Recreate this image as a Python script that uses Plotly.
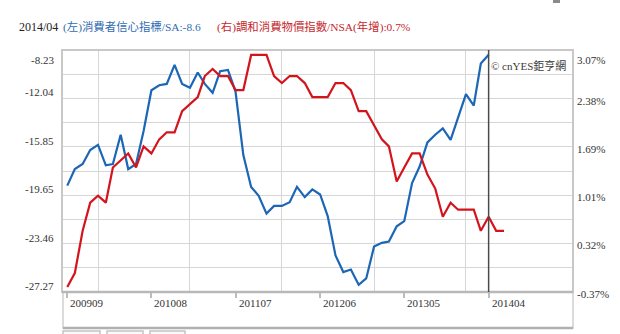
import pandas as pd
import plotly.graph_objects as go

# ---- data -------------------------------------------------------------
# Euro-area consumer confidence (SA), monthly 2009-09 .. 2014-04
confidence = [
    -18.9, -17.6, -17.2, -16.1, -15.7, -17.3, -17.2, -14.9, -17.6, -17.2,
    -14.6, -11.4, -11.0, -10.9, -9.4, -10.9, -11.2, -10.0, -10.9, -11.6,
    -9.9, -9.8, -11.5, -16.5, -19.0, -19.7, -21.1, -20.5, -20.5, -20.2,
    -19.0, -19.8, -19.2, -19.6, -21.3, -24.4, -25.7, -25.5, -26.7, -26.2,
    -23.7, -23.4, -23.3, -22.1, -21.7, -18.7, -17.4, -15.5, -14.9, -14.4,
    -15.3, -13.5, -11.7, -12.6, -9.3, -8.6,
]
# Euro-area HICP, NSA, year-on-year %, monthly 2009-09 .. 2014-06
hicp = [
    -0.3, -0.1, 0.5, 0.9, 1.0, 0.9, 1.4, 1.5, 1.6, 1.4,
    1.7, 1.6, 1.8, 1.9, 1.9, 2.2, 2.3, 2.4, 2.7, 2.8,
    2.7, 2.7, 2.5, 2.5, 3.0, 3.0, 3.0, 2.7, 2.6, 2.7,
    2.7, 2.6, 2.4, 2.4, 2.4, 2.6, 2.6, 2.5, 2.2, 2.2,
    2.0, 1.8, 1.7, 1.2, 1.4, 1.6, 1.6, 1.3, 1.1, 0.7,
    0.9, 0.8, 0.8, 0.8, 0.5, 0.7, 0.5, 0.5,
]
start_month = "2009-09-01"
current_month = "201404"

x_tick_labels = ["200909", "201008", "201107", "201206", "201305", "201404"]
grid_years = ["2010", "2011", "2012", "2013", "2014"]
left_ticks = [-27.27, -23.46, -19.65, -15.85, -12.04, -8.23]
right_ticks = [-0.37, 0.32, 1.01, 1.69, 2.38, 3.07]

# ---- derived helpers --------------------------------------------------
months_conf = pd.date_range(start_month, periods=len(confidence), freq="MS")
months_hicp = pd.date_range(start_month, periods=len(hicp), freq="MS")


def ym(label):
    return pd.Timestamp(f"{label[:4]}-{label[4:]}-01")


cur = ym(current_month)
conf_now = confidence[list(months_conf).index(cur)]
hicp_now = hicp[list(months_hicp).index(cur)]

W, H = 620, 334
L, R, T, B = 62, 47, 50, 42
PW, PH = W - L - R, H - T - B


def px(x):
    return (x - L) / PW


def py(y):
    return (H - B - y) / PH


# gridlines: each labelled value plus the midpoint between neighbours
grid_vals = []
for a, b in zip(left_ticks[:-1], left_ticks[1:]):
    grid_vals += [a, (a + b) / 2]
grid_vals.append(left_ticks[-1])

SERIF = "Times New Roman, Liberation Serif, Noto Sans CJK TC, serif"
BLUE_LINE = "#1c66b6"
RED_LINE = "#d4141c"
TXT = "#333333"

fig = go.Figure()
fig.add_trace(go.Scatter(
    x=months_hicp, y=hicp, yaxis="y2", mode="lines",
    line=dict(color=RED_LINE, width=2.2), hoverinfo="skip", showlegend=False,
))
fig.add_trace(go.Scatter(
    x=months_conf, y=confidence, yaxis="y", mode="lines",
    line=dict(color=BLUE_LINE, width=2.2), hoverinfo="skip", showlegend=False,
))

ann = []
# y-axis labels
n = len(left_ticks)
for i, v in enumerate(left_ticks):
    shift = -10 if i == n - 1 else 6
    ann.append(dict(x=px(56), xref="paper", y=v, yref="y", text=f"{v:.2f}",
                    xanchor="right", yanchor="middle", showarrow=False,
                    yshift=shift, font=dict(family=SERIF, size=11, color=TXT)))
for i, v in enumerate(right_ticks):
    shift = -10 if i == n - 1 else -2
    ann.append(dict(x=px(575), xref="paper", y=v, yref="y2", text=f"{v:.2f}%",
                    xanchor="left", yanchor="middle", showarrow=False,
                    yshift=shift, font=dict(family=SERIF, size=11, color=TXT)))
# x-axis labels
for lab in x_tick_labels:
    ann.append(dict(x=ym(lab), xref="x", y=py(303), yref="paper", text=lab,
                    xanchor="left", yanchor="middle", showarrow=False, xshift=1,
                    font=dict(family=SERIF, size=11, color=TXT)))
# header
ann.append(dict(x=px(17), xref="paper", y=py(27), yref="paper",
                text=f"{current_month[:4]}/{current_month[4:]}",
                xanchor="left", yanchor="middle", showarrow=False,
                font=dict(family=SERIF, size=12, color="#222222")))
ann.append(dict(x=px(61), xref="paper", y=py(27), yref="paper",
                text=f"(左)消費者信心指標/SA:{conf_now}",
                xanchor="left", yanchor="middle", showarrow=False,
                font=dict(family=SERIF, size=11.4, color="#2f6cb3")))
ann.append(dict(x=px(215), xref="paper", y=py(27), yref="paper",
                text=f"(右)調和消費物價指數/NSA(年增):{hicp_now}%",
                xanchor="left", yanchor="middle", showarrow=False,
                font=dict(family=SERIF, size=11.4, color="#c5262c")))
# watermark
ann.append(dict(x=px(489), xref="paper", y=py(65), yref="paper",
                text="© cnYES鉅亨網", xanchor="left", yanchor="middle",
                showarrow=False, font=dict(family=SERIF, size=11, color="#3a3a3a")))

shapes = [
    # label strip below the plot
    dict(type="rect", xref="paper", yref="paper", x0=px(63), x1=1, y0=py(328), y1=0,
         line=dict(color="#cfcfcf", width=1.5), layer="below"),
    dict(type="line", xref="paper", yref="paper", x0=px(63), x1=1, y0=py(328), y1=py(328),
         line=dict(color="#b0b0b0", width=2.5)),
    # plot frame
    dict(type="rect", xref="paper", yref="paper", x0=0, x1=1, y0=0, y1=1,
         line=dict(color="#c8c8c8", width=2)),
    dict(type="line", xref="paper", yref="paper", x0=0, x1=1, y0=0, y1=0,
         line=dict(color="#b8b8b8", width=2.5)),
    # current month marker
    dict(type="line", xref="x", yref="paper", x0=cur, x1=cur, y0=0, y1=1,
         line=dict(color="#4a4a4a", width=1.5)),
    # edge of a toolbar icon at the top
    dict(type="rect", xref="paper", yref="paper", x0=px(553), x1=px(560),
         y0=py(3), y1=py(0), line=dict(width=0), fillcolor="#8a8a8a"),
]
# small tabs peeking out at the bottom edge
for a, b in [(63, 100), (107, 143), (150, 185)]:
    shapes.append(dict(type="rect", xref="paper", yref="paper", x0=px(a), x1=px(b),
                       y0=py(340), y1=py(331), line=dict(color="#c4c4c4", width=1.5),
                       fillcolor="#fafafa"))

fig.update_layout(
    width=W, height=H,
    margin=dict(l=L, r=R, t=T, b=B),
    paper_bgcolor="white", plot_bgcolor="white",
    showlegend=False,
    xaxis=dict(
        type="date",
        range=["2009-08-11", "2015-03-02"],
        tickmode="array", tickvals=[ym(t) for t in x_tick_labels],
        showticklabels=False, ticks="outside", ticklen=5, tickwidth=2,
        tickcolor="#bdbdbd", showgrid=False, zeroline=False, showline=False,
        minor=dict(tickmode="array", tickvals=[f"{y}-01-01" for y in grid_years],
                   showgrid=True, gridcolor="#d6d6d6", gridwidth=1, ticks=""),
    ),
    yaxis=dict(
        range=[left_ticks[0], left_ticks[-1]],
        tickmode="array", tickvals=grid_vals, showticklabels=False,
        showgrid=True, gridcolor="#d6d6d6", gridwidth=1,
        zeroline=False, showline=False, ticks="",
    ),
    yaxis2=dict(
        range=[right_ticks[0], right_ticks[-1]], overlaying="y", side="right",
        showticklabels=False, showgrid=False, zeroline=False, showline=False,
        ticks="",
    ),
    annotations=ann,
    shapes=shapes,
)

fig.write_html("out.html")
